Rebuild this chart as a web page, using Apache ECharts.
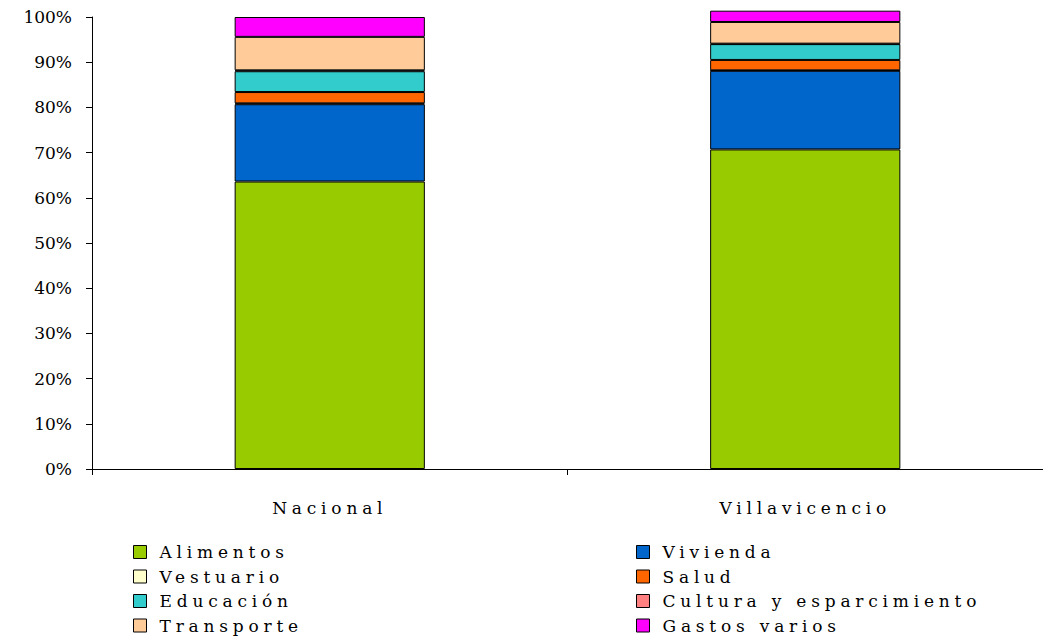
<!DOCTYPE html>
<html><head><meta charset="utf-8">
<script src="https://cdn.jsdelivr.net/npm/echarts@6/dist/echarts.min.js"></script>
<style>
html,body{margin:0;padding:0;background:#fff;}
#c{width:1043px;height:640px;}
#c svg text.sp{letter-spacing:4.8px;}
</style></head>
<body><div id="c"></div>
<script>
const categories = ['Nacional', 'Villavicencio'];
const seriesNames = ['Alimentos','Vivienda','Vestuario','Salud','Educación','Cultura y esparcimiento','Transporte','Gastos varios'];
const alimentos  = [63.6, 70.7];
const vivienda   = [17.1, 17.4];
const vestuario  = [0.2, 0.1];
const salud      = [2.5, 2.3];
const educacion  = [4.6, 3.5];
const cultura    = [0.2, 0.1];
const transporte = [7.4, 4.8];
const gastos     = [4.4, 2.5];
const yTicks = [0,10,20,30,40,50,60,70,80,90,100];

const values = [alimentos, vivienda, vestuario, salud, educacion, cultura, transporte, gastos];
const colors = ['#99CC00','#0066CC','#FFFFCC','#FF6600','#33CCCC','#FF8080','#FFCC99','#FF00FF'];
const font = 'DejaVu Serif';

const legendBase = {orient:'vertical', top:543, height:95, padding:0, icon:'rect',
  itemWidth:13, itemHeight:13, itemGap:6.5,
  textStyle:{color:'#000', fontFamily:font, fontSize:17, lineHeight:18, padding:[0,0,0,8]},
  itemStyle:{borderColor:'#000', borderWidth:1}};

const chart = echarts.init(document.getElementById('c'), null, {renderer:'svg'});
chart.setOption({
  animation:false,
  backgroundColor:'#fff',
  grid:{left:92, top:17, width:956, bottom:171, containLabel:false},
  xAxis:{type:'category', data:categories,
    axisLine:{lineStyle:{color:'#000', width:1}},
    axisTick:{show:true, length:6, lineStyle:{color:'#000'}},
    axisLabel:{color:'#000', fontFamily:font, fontSize:17, margin:30}},
  yAxis:{type:'value', min:0, max:100, interval:10,
    axisLine:{show:true, lineStyle:{color:'#000', width:1}},
    axisTick:{show:true, length:6, lineStyle:{color:'#000'}},
    splitLine:{show:false},
    axisLabel:{color:'#000', fontFamily:font, fontSize:17, margin:20,
      formatter: v => yTicks.includes(v) ? v + '%' : ''}},
  legend:[
    Object.assign({}, legendBase, {left:133,
     data:[seriesNames[0],seriesNames[2],seriesNames[4],seriesNames[6]]}),
    Object.assign({}, legendBase, {left:636,
     data:[seriesNames[1],seriesNames[3],seriesNames[5],seriesNames[7]]})
  ],
  series: seriesNames.map((n,i)=>({
    name:n, type:'bar', stack:'total', data:values[i], barWidth:'40%', clip:false,
    itemStyle:{color:colors[i], borderColor:'#000', borderWidth:1}
  }))
});
function addSpacing(){
  document.querySelectorAll('#c svg text').forEach(t=>{
    const s = t.textContent;
    if (!/%$/.test(s)) t.classList.add('sp');
  });
}
addSpacing();
setTimeout(addSpacing, 50);
</script>
</body></html>
